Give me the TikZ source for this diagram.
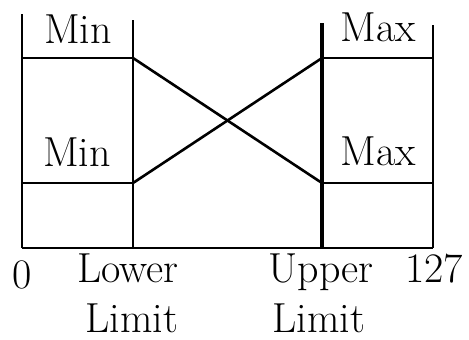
\documentclass[tikz,border=0pt]{standalone}
\usetikzlibrary{positioning}
\tikzset{
  lbl/.style={font=\fontsize{21}{25}\selectfont,inner sep=0pt,anchor=base},
  rule/.style={line width=1.3pt},
  limitrule/.style={line width=2.4pt}
}

\begin{document}
\begin{tikzpicture}[x=0.5pt,y=-0.5pt]
\useasboundingbox (0,0) rectangle (469,339);
% axis end points
\coordinate (zero) at (22,248);
\coordinate (lower) at (133,248);
\coordinate (upper) at (322,248);
\coordinate (top) at (433,248);
% tops of the verticals
\coordinate (zeroT) at (22,14);
\coordinate (lowerT) at (133,20);
\coordinate (upperT) at (322,23);
\coordinate (topT) at (433,25);
% levels
\coordinate (minA) at (22,58);
\coordinate (minB) at (133,58);
\coordinate (minC) at (22,183);
\coordinate (minD) at (133,183);
\coordinate (maxA) at (322,58);
\coordinate (maxB) at (433,58);
\coordinate (maxC) at (322,183);
\coordinate (maxD) at (433,183);

\draw[rule] (zero) -- (top);
\draw[rule] (zero) -- (zeroT);
\draw[rule] (lower) -- (lowerT);
\draw[limitrule] (upper) -- (upperT);
\draw[rule] (top) -- (topT);
\draw[rule] (minA) -- (minB);
\draw[rule] (minC) -- (minD);
\draw[rule] (maxA) -- (maxB);
\draw[rule] (maxC) -- (maxD);
\draw[rule] (minB) -- (maxC);
\draw[rule] (minD) -- (maxA);

\node[lbl] (min1) at (78,43) {Min};
\node[lbl] (max1) at (378,41) {Max};
\node[lbl] (min2) at (77,166) {Min};
\node[lbl] (max2) at (378,165) {Max};
\node[lbl] (n0) at (22,288) {0};
\node[lbl] (lowA) at (128,282) {Lower};
\node[lbl] (lowB) at (132,332) {Limit};
\node[lbl] (upA) at (321,282) {Upper};
\node[lbl] (upB) at (319,332) {Limit};
\node[lbl] (n127) at (434,282) {127};
\end{tikzpicture}
\end{document}
